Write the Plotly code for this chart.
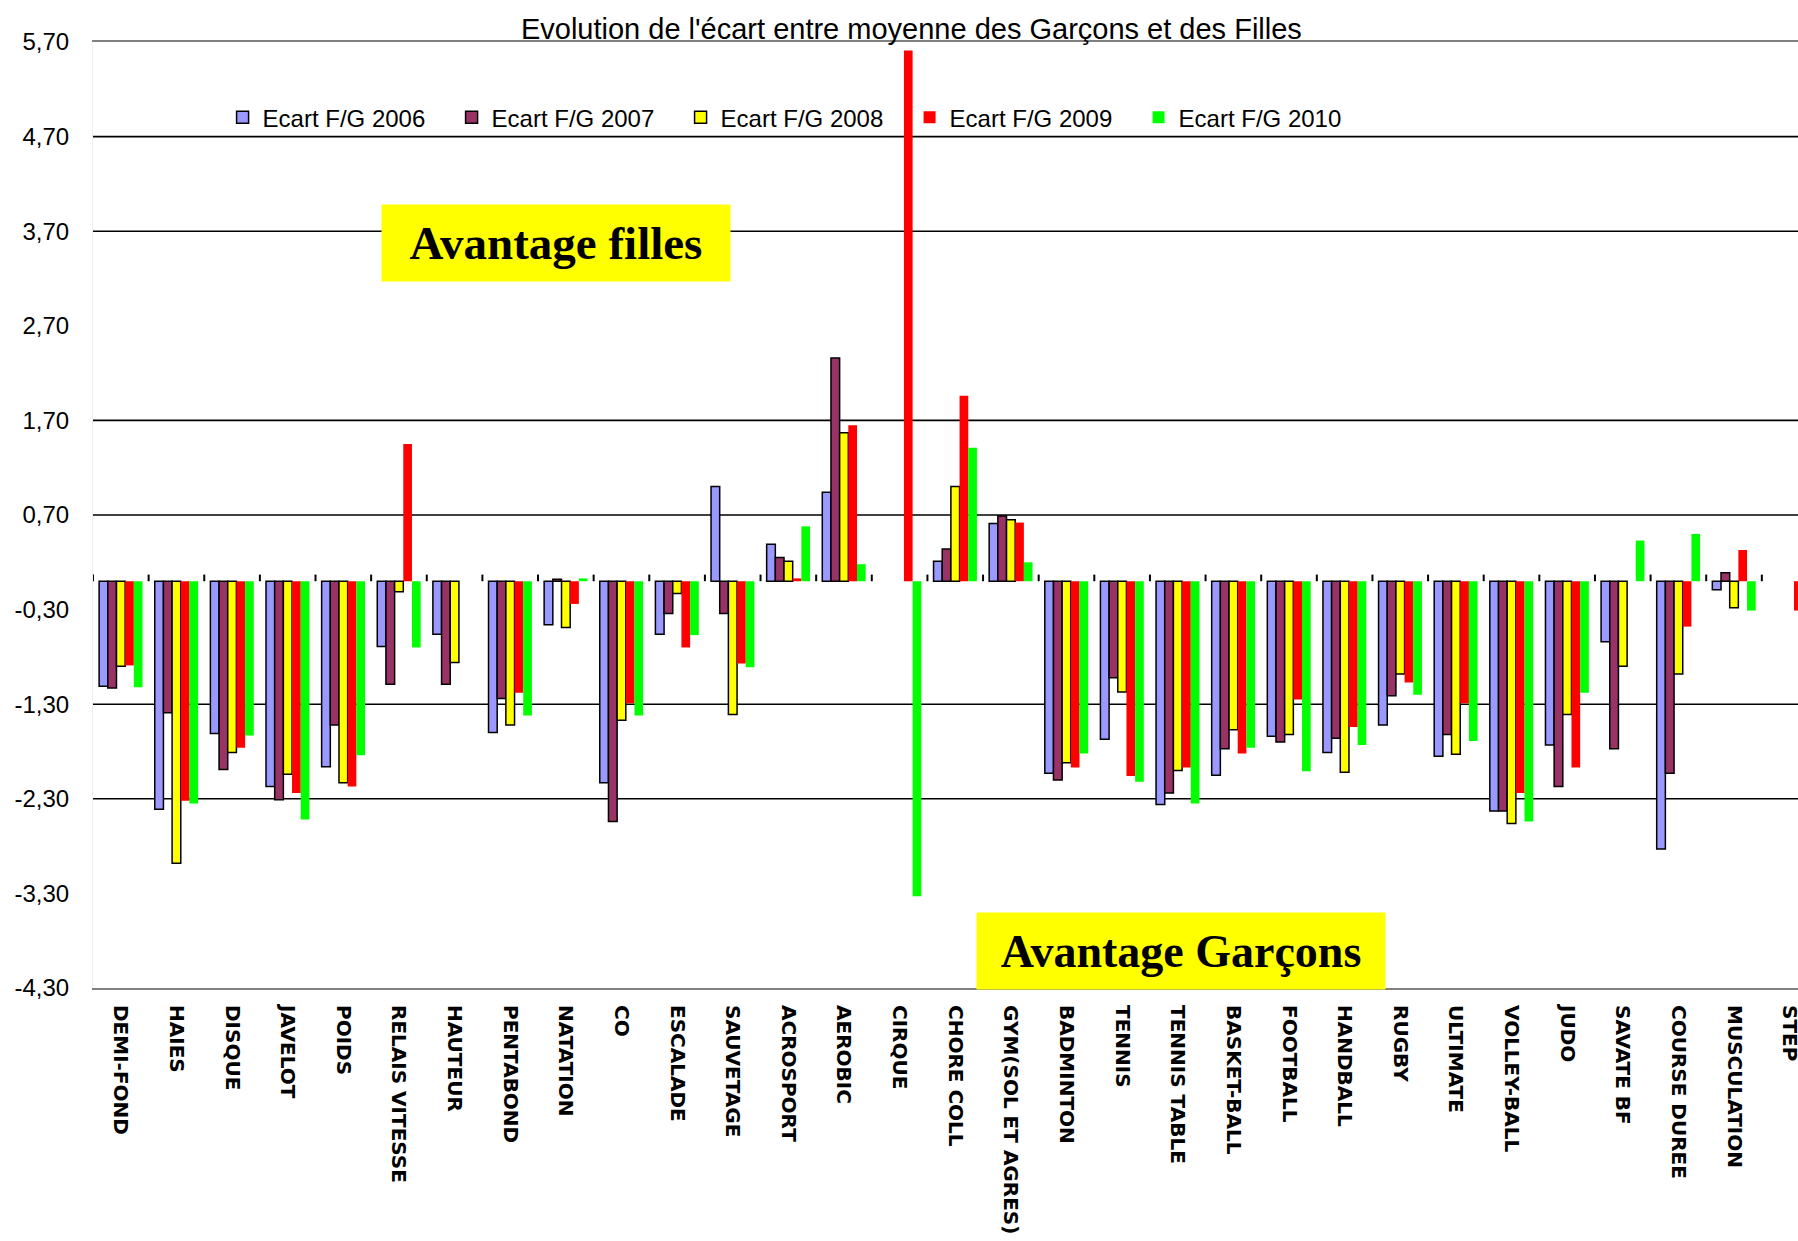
import plotly.graph_objects as go

categories = ["DEMI-FOND", "HAIES", "DISQUE", "JAVELOT", "POIDS", "RELAIS VITESSE", "HAUTEUR",
              "PENTABOND", "NATATION", "CO", "ESCALADE", "SAUVETAGE", "ACROSPORT", "AEROBIC",
              "CIRQUE", "CHORE COLL", "GYM(SOL ET AGRES)", "BADMINTON", "TENNIS", "TENNIS TABLE",
              "BASKET-BALL", "FOOTBALL", "HANDBALL", "RUGBY", "ULTIMATE", "VOLLEY-BALL", "JUDO",
              "SAVATE BF", "COURSE DUREE", "MUSCULATION", "STEP"]

ecart_2006 = [-1.11, -2.41, -1.61, -2.17, -1.96, -0.69, -0.56, -1.60, -0.46, -2.13, -0.56, 1.00,
              0.39, 0.94, None, 0.21, 0.61, -2.03, -1.67, -2.36, -2.05, -1.64, -1.81, -1.52,
              -1.85, -2.43, -1.73, -0.64, -2.83, -0.09, None]
ecart_2007 = [-1.13, -1.39, -1.99, -2.31, -1.52, -1.09, -1.09, -1.24, 0.02, -2.54, -0.34, -0.34,
              0.25, 2.36, None, 0.34, 0.69, -2.10, -1.02, -2.24, -1.77, -1.70, -1.66, -1.21,
              -1.62, -2.43, -2.17, -1.77, -2.03, 0.09, None]
ecart_2008 = [-0.90, -2.98, -1.81, -2.04, -2.13, -0.11, -0.86, -1.52, -0.49, -1.47, -0.13, -1.41,
              0.21, 1.57, None, 1.00, 0.65, -1.92, -1.17, -2.00, -1.57, -1.62, -2.02, -0.98,
              -1.83, -2.56, -1.41, -0.90, -0.98, -0.28, None]
ecart_2009 = [-0.89, -2.32, -1.76, -2.24, -2.17, 1.45, None, -1.18, -0.24, -1.29, -0.70, -0.87,
              0.03, 1.65, 5.61, 1.96, 0.62, -1.97, -2.06, -1.97, -1.82, -1.25, -1.54, -1.07,
              -1.29, -2.24, -1.97, None, -0.48, 0.33, -0.31]
ecart_2010 = [-1.12, -2.35, -1.63, -2.52, -1.84, -0.70, None, -1.42, 0.03, -1.42, -0.57, -0.91,
              0.58, 0.18, -3.33, 1.41, 0.20, -1.82, -2.12, -2.35, -1.76, -2.01, -1.73, -1.20,
              -1.69, -2.54, -1.18, 0.43, 0.50, -0.31, None]

series = [
    ("Ecart F/G 2006", ecart_2006, "#9999FF", 1.5),
    ("Ecart F/G 2007", ecart_2007, "#993366", 1.5),
    ("Ecart F/G 2008", ecart_2008, "#FFFF00", 1.5),
    ("Ecart F/G 2009", ecart_2009, "#FF0000", 0),
    ("Ecart F/G 2010", ecart_2010, "#00FF00", 0),
]

y_ticks = [5.7, 4.7, 3.7, 2.7, 1.7, 0.7, -0.3, -1.3, -2.3, -3.3, -4.3]
y_labels = ["5,70", "4,70", "3,70", "2,70", "1,70", "0,70", "-0,30", "-1,30", "-2,30", "-3,30", "-4,30"]
grid_lines = [4.7, 3.7, 1.7, 0.7, -1.3, -2.3]

x_range = [-0.5, 30.15]
y_range = [-4.3, 5.7]

fig = go.Figure()
for name, values, color, lw in series:
    fig.add_trace(go.Bar(
        x=categories, y=values, name=name,
        marker=dict(color=color, line=dict(color="black", width=lw)),
    ))

# horizontal grid lines (only some of them are drawn in the original)
for g in grid_lines:
    fig.add_shape(type="line", xref="paper", x0=0, x1=1, yref="y", y0=g, y1=g,
                  line=dict(color="black", width=1.6), layer="below")

# small tick marks on the zero baseline between categories
for i in range(len(categories)):
    fig.add_shape(type="line", xref="x", x0=i - 0.5, x1=i - 0.5, yref="y", y0=0, y1=0.07,
                  line=dict(color="black", width=2), layer="below")

fig.update_layout(
    template="none",
    width=1798, height=1241,
    margin=dict(l=93, r=0, t=42, b=253),
    paper_bgcolor="white", plot_bgcolor="white",
    barmode="group", bargap=0.22, bargroupgap=0,
    font=dict(family="Liberation Sans, Arial, sans-serif", color="black"),
    title=dict(
        text="Evolution de l'écart entre moyenne des Garçons et des Filles",
        font=dict(size=29, family="Liberation Sans, Arial, sans-serif", color="black"),
        xref="paper", x=0.48, xanchor="center",
        yref="container", y=0.977, yanchor="middle",
    ),
    legend=dict(
        orientation="h", x=0.076, y=0.92, xanchor="left", yanchor="middle",
        font=dict(size=24), entrywidth=184, bgcolor="rgba(0,0,0,0)",
    ),
    xaxis=dict(
        type="category", range=x_range, automargin=False,
        showgrid=False, zeroline=False,
        showline=True, mirror=True, linecolor="#808080", linewidth=2,
        ticks="", tickangle=90, ticklabelstandoff=11,
        tickfont=dict(family="DejaVu Sans, sans-serif", size=20, weight="bold"),
    ),
    yaxis=dict(
        range=y_range, automargin=False,
        tickvals=y_ticks, ticktext=y_labels, showgrid=False, zeroline=False,
        showline=True, linecolor="#eeeeee", linewidth=1,
        ticks="", ticklabelstandoff=18, tickfont=dict(size=24),
    ),
)

fig.add_annotation(
    text="<b>Avantage filles</b>", xref="paper", yref="paper", x=0.2716, y=0.787,
    xanchor="center", yanchor="middle",
    showarrow=False, bgcolor="#FFFF00", width=340, height=68, borderpad=4,
    font=dict(family="Liberation Serif, Times New Roman, serif", size=47, color="black"),
)
fig.add_annotation(
    text="<b>Avantage Garçons</b>", xref="paper", yref="paper", x=0.638, y=0.039,
    xanchor="center", yanchor="middle",
    showarrow=False, bgcolor="#FFFF00", width=400, height=68, borderpad=4,
    font=dict(family="Liberation Serif, Times New Roman, serif", size=46, color="black"),
)

fig.write_html("out.html", config={"displayModeBar": False},
               post_script="document.body.style.margin='0';")
